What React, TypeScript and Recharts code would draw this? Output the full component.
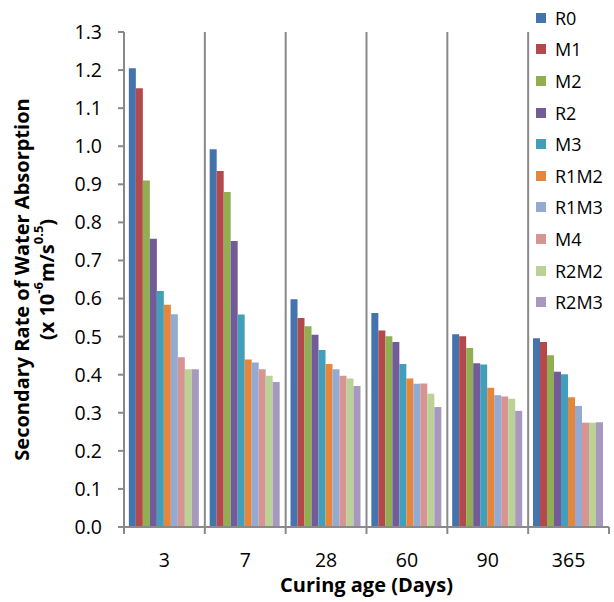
import React from 'react';
import { BarChart, Bar, XAxis, YAxis, Legend, Label } from 'recharts';

const categories = ['3', '7', '28', '60', '90', '365'];
const seriesNames = ['R0', 'M1', 'M2', 'R2', 'M3', 'R1M2', 'R1M3', 'M4', 'R2M2', 'R2M3'];
const R0 = [1.205, 0.992, 0.598, 0.562, 0.506, 0.496];
const M1 = [1.152, 0.935, 0.549, 0.516, 0.501, 0.486];
const M2 = [0.91, 0.88, 0.527, 0.501, 0.47, 0.451];
const R2 = [0.757, 0.751, 0.505, 0.486, 0.43, 0.408];
const M3 = [0.62, 0.558, 0.465, 0.428, 0.427, 0.401];
const R1M2 = [0.584, 0.44, 0.428, 0.39, 0.366, 0.341];
const R1M3 = [0.559, 0.432, 0.414, 0.376, 0.346, 0.318];
const M4 = [0.446, 0.414, 0.397, 0.377, 0.343, 0.274];
const R2M2 = [0.414, 0.397, 0.39, 0.35, 0.337, 0.274];
const R2M3 = [0.414, 0.381, 0.37, 0.315, 0.305, 0.275];
const yTicks = [0, 0.1, 0.2, 0.3, 0.4, 0.5, 0.6, 0.7, 0.8, 0.9, 1.0, 1.1, 1.2, 1.3];

const seriesValues = [R0, M1, M2, R2, M3, R1M2, R1M3, M4, R2M2, R2M3];
const colors = ['#4573AD', '#B4484A', '#90AE52', '#735A98', '#439EBA', '#E6863C', '#93AAD3', '#D69492', '#BBD297', '#A898C0'];

const data = categories.map((c, i) => {
  const row: Record<string, string | number> = { age: c };
  seriesNames.forEach((n, j) => {
    row[n] = seriesValues[j][i];
  });
  return row;
});

const FONT = '"Open Sans", "Noto Sans", sans-serif';
const AXIS_COLOR = '#898989';
const PLOT_H = 495;

const XTick = (props: any) => {
  const { x, y, payload, index, width, visibleTicksCount } = props;
  const half = payload && typeof payload.offset === 'number' && payload.offset > 0
    ? payload.offset
    : width / (visibleTicksCount || categories.length) / 2;
  const lines = [] as React.ReactNode[];
  const left = x - half;
  lines.push(<line key="t" x1={left} x2={left} y1={y} y2={y + 7} stroke={AXIS_COLOR} strokeWidth={2} />);
  if (index > 0) {
    lines.push(<line key="g" x1={left} x2={left} y1={y} y2={y - PLOT_H} stroke={AXIS_COLOR} strokeWidth={2} />);
  }
  if (index === categories.length - 1) {
    lines.push(<line key="r" x1={x + half} x2={x + half} y1={y} y2={y + 7} stroke={AXIS_COLOR} strokeWidth={2} />);
  }
  return (
    <g>
      {lines}
      <text x={x} y={y + 40} textAnchor="middle" fontFamily={FONT} fontSize={19.5} fill="#000">
        {payload.value}
      </text>
    </g>
  );
};

const YTitle = (props: any) => {
  const vb = props.viewBox || { x: 0, y: 32, width: 124, height: 495 };
  const cy = vb.y + vb.height / 2;
  return (
    <g fontFamily={FONT} fontWeight="bold" fontSize={20} fill="#000">
      <text x={21} y={cy} transform={`rotate(-90, 21, ${cy})`} textAnchor="middle" dominantBaseline="central">
        Secondary Rate of Water Absorption
      </text>
      <text x={46} y={cy} transform={`rotate(-90, 46, ${cy})`} textAnchor="middle" dominantBaseline="central">
        (x 10<tspan dy={-8} fontSize={13}>-6</tspan>
        <tspan dy={8}>m/s</tspan>
        <tspan dy={-8} fontSize={13}>0.5</tspan>
        <tspan dy={8}>)</tspan>
      </text>
    </g>
  );
};

const XTitle = (props: any) => {
  const vb = props.viewBox || { x: 124, y: 527, width: 485, height: 75 };
  const cx = vb.x + vb.width / 2;
  return (
    <text x={cx} y={vb.y + 65} textAnchor="middle" fontFamily={FONT} fontWeight="bold" fontSize={20} fill="#000">
      Curing age (Days)
    </text>
  );
};

const LegendContent = () => (
  <div style={{ fontFamily: FONT, fontSize: 18, color: '#000' }}>
    {seriesNames.map((n, i) => (
      <div key={n} style={{ display: 'flex', alignItems: 'center', height: 31.6 }}>
        <span style={{ display: 'inline-block', width: 10, height: 10, background: colors[i], marginRight: 9 }} />
        <span style={{ lineHeight: '20px' }}>{n}</span>
      </div>
    ))}
  </div>
);

export default function App() {
  return (
    <div style={{ position: 'absolute', left: 0, top: 0, width: 614, height: 602, background: '#fff' }}>
      <BarChart
        width={614}
        height={602}
        data={data}
        margin={{ top: 32, right: 5, bottom: 0, left: 0 }}
        barCategoryGap="6%"
        barGap={0}
      >
        <XAxis
          dataKey="age"
          height={75}
          tickLine={false}
          tickSize={0}
          tickMargin={0}
          axisLine={{ stroke: AXIS_COLOR, strokeWidth: 2 }}
          tick={<XTick />}
          interval={0}
        >
          <Label content={<XTitle />} />
        </XAxis>
        <YAxis
          width={124}
          domain={[0, 1.3]}
          ticks={yTicks}
          interval={0}
          tickFormatter={(v: number) => v.toFixed(1)}
          tickSize={6}
          tickMargin={16}
          tickLine={{ stroke: AXIS_COLOR, strokeWidth: 2 }}
          axisLine={{ stroke: AXIS_COLOR, strokeWidth: 2 }}
          tick={{ fontFamily: FONT, fontSize: 19.5, fill: '#000' }}
          allowDataOverflow
        >
          <Label content={<YTitle />} />
        </YAxis>
        <Legend
          layout="vertical"
          align="center"
          verticalAlign="middle"
          content={<LegendContent />}
          wrapperStyle={{ position: 'absolute', left: 536, top: 2, width: 80, height: 320 }}
        />
        {seriesNames.map((n, i) => (
          <Bar key={n} dataKey={n} name={n} fill={colors[i]} isAnimationActive={false} />
        ))}
      </BarChart>
    </div>
  );
}
